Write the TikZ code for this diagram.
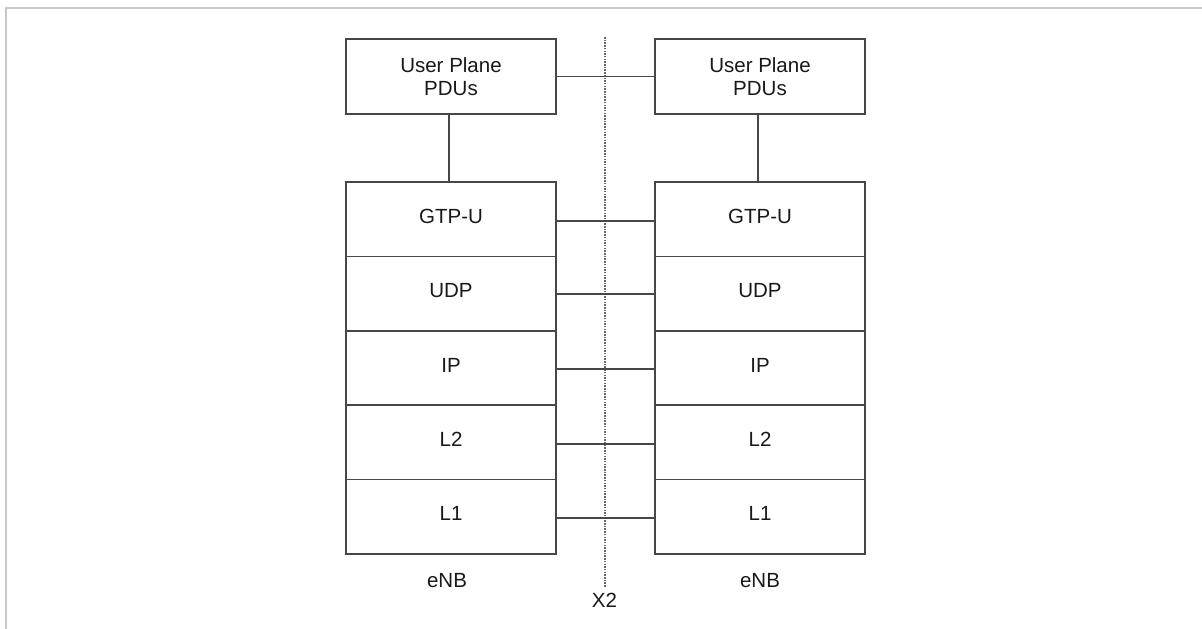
\documentclass[tikz,border=0pt]{standalone}
\usepackage{fontspec}
\setmainfont{Liberation Sans}
\begin{document}
\begin{tikzpicture}[x=1pt,y=-1pt,
  boxline/.style={draw=black!72, line width=1.7pt},
  pdubox/.style={boxline, minimum width=210pt, minimum height=74.5pt, inner sep=0pt,
    align=center, font=\fontsize{20.5}{23}\selectfont, text=black!90},
  layer/.style={boxline, minimum width=210pt, minimum height=74.4pt, inner sep=0pt,
    text depth=6pt, font=\fontsize{20.5}{23}\selectfont, text=black!90},
  plain/.style={font=\fontsize{20.5}{23}\selectfont, text=black!90, inner sep=0pt},
  link/.style={draw=black!72, line width=1.7pt},
  iface/.style={draw=black!60, line width=2pt, dash pattern=on 1.5pt off 1.2pt}
]
\useasboundingbox (0,0) rectangle (1202,629);
% frame
\draw[black!22, line width=2pt] (6,629) -- (6,7.5) -- (1202,7.5);

% X2 interface line
\coordinate (xtop) at (604.5,37);
\coordinate (xbot) at (604.5,587);
\draw[iface] (xtop) -- (xbot);
\node[plain] (x2) at (604.5,600) {X2};

% user plane PDUs
\node[pdubox] (pduL) at (451,76.5) {User Plane\\PDUs};
\node[pdubox] (pduR) at (760,76.5) {User Plane\\PDUs};

% left eNB stack
\node[layer] (gtpL) at (451,219.2) {GTP-U};
\node[layer] (udpL) at (451,293.6) {UDP};
\node[layer] (ipL)  at (451,368.0) {IP};
\node[layer] (l2L)  at (451,442.4) {L2};
\node[layer] (l1L)  at (451,516.8) {L1};

% right eNB stack
\node[layer] (gtpR) at (760,219.2) {GTP-U};
\node[layer] (udpR) at (760,293.6) {UDP};
\node[layer] (ipR)  at (760,368.0) {IP};
\node[layer] (l2R)  at (760,442.4) {L2};
\node[layer] (l1R)  at (760,516.8) {L1};

\node[plain] (enbL) at (447,581) {eNB};
\node[plain] (enbR) at (760,581) {eNB};

% peer links
\draw[link] (pduL.east) -- (pduR.west);
\draw[link] ([xshift=-2pt]pduL.south) -- ([xshift=-2pt]gtpL.north);
\draw[link] ([xshift=-2pt]pduR.south) -- ([xshift=-2pt]gtpR.north);
\draw[link] ([yshift=-1.5pt]gtpL.east) -- ([yshift=-1.5pt]gtpR.west);
\draw[link] ([yshift=-0.5pt]udpL.east) -- ([yshift=-0.5pt]udpR.west);
\draw[link] ([yshift=-1pt]ipL.east) -- ([yshift=-1pt]ipR.west);
\draw[link] ([yshift=-1.5pt]l2L.east) -- ([yshift=-1.5pt]l2R.west);
\draw[link] ([yshift=-1pt]l1L.east) -- ([yshift=-1pt]l1R.west);
\end{tikzpicture}
\end{document}
